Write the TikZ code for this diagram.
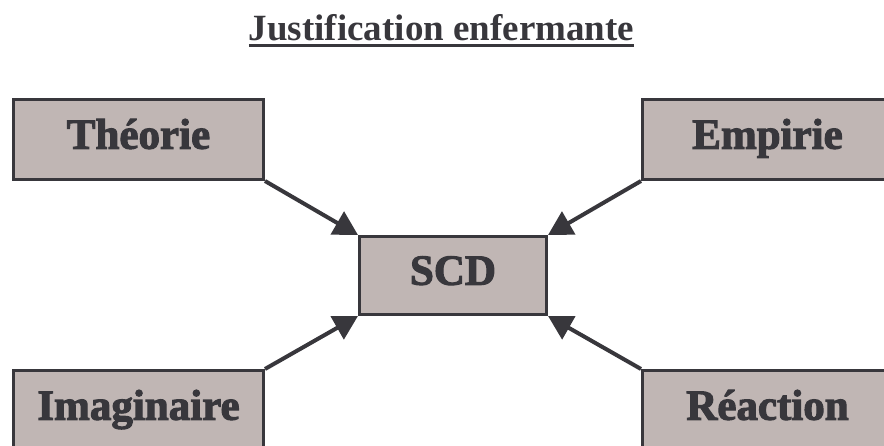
\documentclass[tikz,border=0pt]{standalone}
\usepackage{fontspec}
\setmainfont{Liberation Serif}
\newfontfamily\boxfont{Liberation Serif}[BoldFeatures={FakeBold=2.5}]
\usetikzlibrary{arrows.meta}
\definecolor{boxfill}{HTML}{C0B6B4}
\definecolor{ink}{HTML}{38373C}
\newcommand\souligne[1]{\setbox0\hbox{#1}\rlap{\rule[-6pt]{\wd0}{3pt}}\box0}

\begin{document}
\begin{tikzpicture}[x=1pt,y=-1pt,
  box/.style={draw=ink,line width=3pt,fill=boxfill,inner sep=0pt,
    minimum width=250pt,minimum height=80pt,text=ink,
    font=\boxfont\bfseries\fontsize{43}{50}\selectfont,
    text height=28pt,text depth=9.5pt},
  fleche/.style={draw=ink,line width=4pt,-{Triangle[length=24pt,width=26pt]}}]
  \useasboundingbox (0,0) rectangle (884,446);

  \node [anchor=base,text=ink,font=\bfseries\fontsize{37}{44}\selectfont] (titre) at (441.5,41)
    {\souligne{Justification enfermante}};

  \node [box] (theorie) at (138.5,139.5) {Théorie};
  \node [box] (empirie) at (767.5,139.5) {Empirie};
  \node [box,minimum width=187pt,minimum height=78pt] (scd) at (453,275.5) {SCD};
  \node [box] (imaginaire) at (138.5,410.5) {Imaginaire};
  \node [box] (reaction) at (767.5,410.5) {Réaction};

  \draw [fleche] (theorie.south east) -- (scd.north west);
  \draw [fleche] (empirie.south west) -- (scd.north east);
  \draw [fleche] (imaginaire.north east) -- (scd.south west);
  \draw [fleche] (reaction.north west) -- (scd.south east);
\end{tikzpicture}
\end{document}
